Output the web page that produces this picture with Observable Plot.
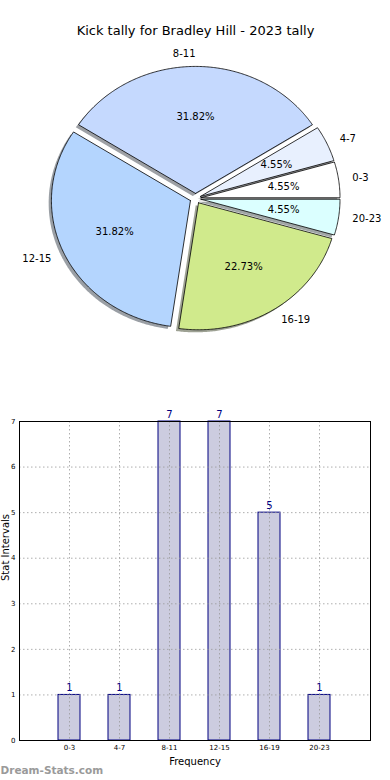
<!DOCTYPE html>
<html>
<head>
<meta charset="utf-8">
<script src="https://cdn.jsdelivr.net/npm/d3@7"></script>
<script src="https://cdn.jsdelivr.net/npm/@observablehq/plot@0.6"></script>
<style>
  html, body { margin: 0; padding: 0; background: #fff; }
  #chart svg { display: block; }
</style>
</head>
<body>
<div id="chart"></div>
<script>
const titleText = "Kick tally for Bradley Hill - 2023 tally";
const categories = ["0-3", "4-7", "8-11", "12-15", "16-19", "20-23"];
const counts = [1, 1, 7, 7, 5, 1];
const sliceColors = ["#ffffff", "#e8f0fe", "#c5d9fe", "#b4d5fe", "#d0ea8c", "#dbffff"];
const yTicks = [0, 1, 2, 3, 4, 5, 6, 7];
const xLabel = "Frequency";
const yLabel = "Stat Intervals";
const watermark = "Dream-Stats.com";

const FONT = "DejaVu Sans";
const explode = 0.04;
const total = d3.sum(counts);
const ends = Array.from(d3.cumsum(counts), v => v / total * 2 * Math.PI);
const slices = categories.map((cat, i) => {
  const a0 = i ? ends[i - 1] : 0, a1 = ends[i], mid = (a0 + a1) / 2;
  return {
    cat, count: counts[i], color: sliceColors[i], a0, a1, mid,
    ox: explode * Math.cos(mid), oy: explode * Math.sin(mid),
    pct: (counts[i] / total * 100).toFixed(2) + "%"
  };
});

function poly(s, dx = 0, dy = 0) {
  const pts = [{x: s.ox + dx, y: s.oy + dy}];
  const n = Math.max(2, Math.ceil((s.a1 - s.a0) / 0.01));
  for (let k = 0; k <= n; k++) {
    const a = s.a0 + (s.a1 - s.a0) * k / n;
    pts.push({x: s.ox + dx + Math.cos(a), y: s.oy + dy + Math.sin(a)});
  }
  pts.push({x: s.ox + dx, y: s.oy + dy});
  return pts;
}
function shadowColor(c) {
  const r = d3.rgb(c);
  return d3.rgb(r.r * 0.3, r.g * 0.3, r.b * 0.3).formatHex();
}

const pie = Plot.plot({
  width: 390, height: 390,
  margin: 0,
  style: {fontFamily: FONT, background: "#fff"},
  x: {domain: [-1, 1], range: [56, 334], axis: null},
  y: {domain: [-1, 1], range: [325, 71], axis: null},
  marks: [
    ...slices.map(s => Plot.line(poly(s, -0.02, -0.02), {x: "x", y: "y", fill: shadowColor(s.color), fillOpacity: 0.5, stroke: "none", curve: "linear"})),
    ...slices.map(s => Plot.line(poly(s), {x: "x", y: "y", fill: s.color, stroke: "#000", strokeWidth: 0.8, curve: "linear"})),
    Plot.text(slices, {
      x: s => s.ox + 0.6 * Math.cos(s.mid), y: s => s.oy + 0.6 * Math.sin(s.mid),
      text: "pct", fontSize: 10, fill: "#000"
    }),
    Plot.text(slices, {
      filter: s => Math.cos(s.mid) >= 0,
      x: s => s.ox + 1.1 * Math.cos(s.mid), y: s => s.oy + 1.1 * Math.sin(s.mid),
      text: "cat", textAnchor: "start", fontSize: 10, fill: "#000"
    }),
    Plot.text(slices, {
      filter: s => Math.cos(s.mid) < 0,
      x: s => s.ox + 1.1 * Math.cos(s.mid), y: s => s.oy + 1.1 * Math.sin(s.mid),
      text: "cat", textAnchor: "end", fontSize: 10, fill: "#000"
    }),
    Plot.text([titleText], {frameAnchor: "top", lineAnchor: "middle", dy: 30, fontSize: 13, fill: "#000"})
  ]
});

const barData = categories.map((cat, i) => ({cat, count: counts[i]}));

const bars = Plot.plot({
  width: 390, height: 390,
  marginTop: 31, marginBottom: 40, marginLeft: 19, marginRight: 20,
  style: {fontFamily: FONT, background: "#fff", overflow: "visible"},
  x: {domain: categories, paddingInner: 0.55, paddingOuter: 0.775, align: 0.5, label: null},
  y: {domain: [0, 7], label: null},
  marks: [
    Plot.barY(barData, {x: "cat", y: "count", fill: "#ccccdf", stroke: "#000080", strokeWidth: 1}),
    Plot.gridX({stroke: "#9a9a9a", strokeOpacity: 0.8, strokeDasharray: "1.5,2.5"}),
    Plot.gridY({ticks: yTicks, stroke: "#9a9a9a", strokeOpacity: 0.8, strokeDasharray: "1.5,2.5"}),
    Plot.text(barData, {x: "cat", y: "count", text: d => String(d.count), dy: -7, fill: "#000080", fontSize: 10}),
    Plot.frame({stroke: "#000", strokeWidth: 1}),
    Plot.axisY({ticks: yTicks, tickFormat: d3.format("d"), tickSize: 0, tickPadding: 4, fontSize: 7, label: null, fill: "#000"}),
    Plot.axisX({tickSize: 0, tickPadding: 5, fontSize: 7, label: null, fill: "#000"}),
    Plot.text([xLabel], {frameAnchor: "bottom", lineAnchor: "middle", dy: 21, fontSize: 10, fill: "#000"}),
    Plot.text([yLabel], {frameAnchor: "left", dx: -14, rotate: -90, fontSize: 10, fill: "#000"}),
    Plot.text([watermark], {frameAnchor: "bottom-left", lineAnchor: "middle", dx: -19, dy: 30, textAnchor: "start", fill: "#9a9a9a", fontWeight: "bold", fontSize: 10.5})
  ]
});

const root = document.getElementById("chart");
root.appendChild(pie);
root.appendChild(bars);
</script>
</body>
</html>
